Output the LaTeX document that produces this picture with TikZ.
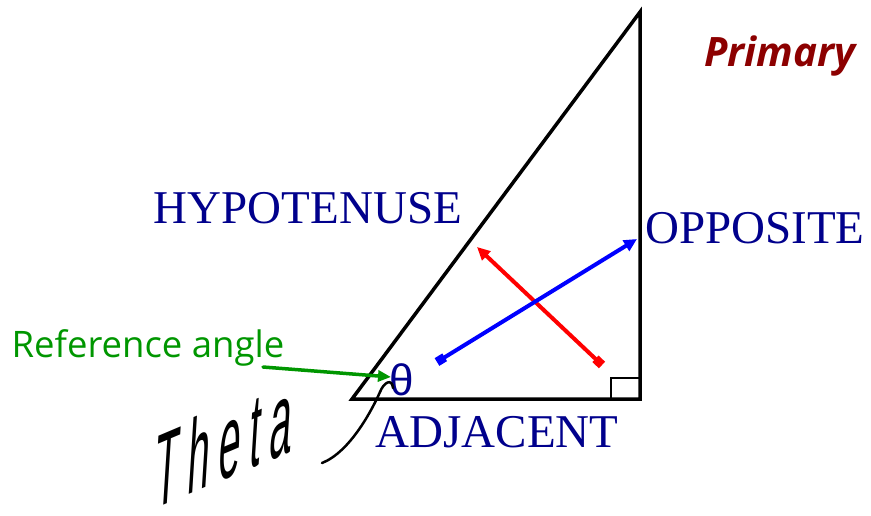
\documentclass[tikz,border=0pt]{standalone}
\usepackage{fontspec}
\setmainfont{Liberation Serif}
\newfontfamily\handfont{Open Sans}
\newfontfamily\thetafont{Liberation Sans}
\usetikzlibrary{arrows.meta}
\definecolor{navytxt}{RGB}{0,0,140}
\definecolor{greentxt}{RGB}{0,150,0}
\definecolor{darkredtxt}{RGB}{140,0,0}
\tikzset{
  side/.style={draw=black, line width=3.5pt, line join=miter},
  sidelabel/.style={text=navytxt, font=\fontsize{47}{47}\selectfont, inner sep=0pt, anchor=base},
  dblarrow/.style={line width=4pt, {Square[length=9pt,width=9pt]}-{Triangle[length=13pt,width=12pt]}},
}
\begin{document}
\begin{tikzpicture}[x=1pt,y=-1pt]
\useasboundingbox (0,0) rectangle (871,515);
% triangle vertices
\coordinate (A) at (352,399);
\coordinate (C) at (640,399);
\coordinate (B) at (640,12);
\draw[side] (A) -- (C) -- (B) -- cycle;
% right angle mark
\coordinate (rq1) at (611,378);
\coordinate (rq2) at (640,399);
\draw[line width=1.5pt] (rq1) rectangle (rq2);
% labels
\node[sidelabel] (hyp) at (308,223) {HYPOTENUSE};
\node[sidelabel] (opp) at (755,243) {OPPOSITE};
\node[sidelabel] (adj) at (497,447) {ADJACENT};
\node[text=navytxt, font=\thetafont\fontsize{44}{44}\selectfont, inner sep=0pt, anchor=base] (th) at (402,395) {θ};
% crossing arrows
\coordinate (r1) at (602,365);
\coordinate (r2) at (477,247);
\coordinate (b1) at (437,362);
\coordinate (b2) at (637,239);
\draw[dblarrow, red] (r1) -- (r2);
\draw[dblarrow, blue] (b1) -- (b2);
% reference angle
\node[text=greentxt, font=\handfont\fontsize{36.5}{36.5}\selectfont, inner sep=0pt, anchor=base] (ref) at (148,357) {Reference angle};
\coordinate (g1) at (263,367);
\coordinate (g2) at (391,377);
\draw[greentxt, line width=3.5pt, line cap=round, -{Triangle[length=13pt,width=11pt]}] (g1) -- (g2);
% primary
\node[text=darkredtxt, font=\handfont\bfseries\itshape\fontsize{40.5}{40.5}\selectfont, inner sep=0pt, anchor=base] (prim) at (780,66) {Primary};
% handwritten theta
\node[font=\thetafont\fontsize{95}{95}\selectfont, inner sep=0pt, anchor=base west, rotate=23, xslant=0.5, xscale=0.45] (hw) at (153,510) {T\hspace{22pt}h\hspace{22pt}e\hspace{22pt}t\hspace{22pt}a};
\coordinate (h1) at (322,463);
\coordinate (h2) at (380,392);
\coordinate (h3) at (393,388);
\draw[line width=2.5pt, line cap=round] (h1) .. controls (350,452) and (372,410) .. (h2) .. controls (384,382) and (392,378) .. (h3);
\end{tikzpicture}
\end{document}
